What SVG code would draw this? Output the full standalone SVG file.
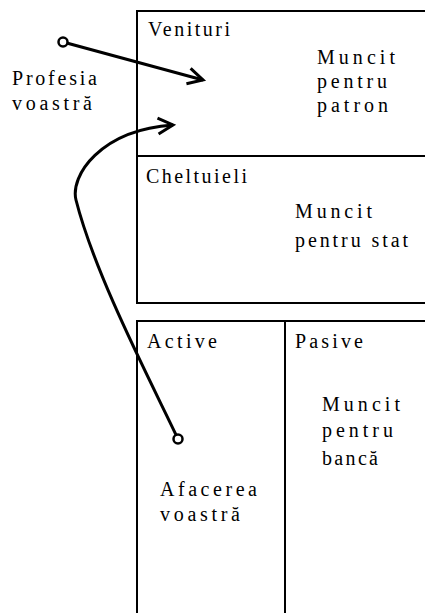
<svg xmlns="http://www.w3.org/2000/svg" width="425" height="613" viewBox="0 0 425 613">
<defs>
<style>
.box{fill:none;stroke:#000;stroke-width:2}
.t{font-family:"Liberation Serif","Times New Roman",serif;font-size:20px;fill:#000}
.c{fill:none;stroke:#000;stroke-width:3}
.dot{fill:#fff;stroke:#000;stroke-width:2.5}
</style>
<marker id="ah" markerUnits="userSpaceOnUse" markerWidth="30" markerHeight="30" refX="0" refY="0" viewBox="-20 -15 30 30" orient="auto" overflow="visible">
<path d="M-15,-8 L0,0 L-15,8" fill="none" stroke="#000" stroke-width="3"/>
</marker>
</defs>
<rect width="425" height="613" fill="#fff"/>
<g id="venituri">
<rect class="box" x="137" y="11" width="300" height="145"/>
<text class="t" x="148" y="36" textLength="82" lengthAdjust="spacing">Venituri</text>
<text class="t" x="317" y="64" textLength="78" lengthAdjust="spacing">Muncit</text>
<text class="t" x="317" y="88" textLength="70" lengthAdjust="spacing">pentru</text>
<text class="t" x="317" y="112" textLength="71" lengthAdjust="spacing">patron</text>
</g>
<g id="cheltuieli">
<rect class="box" x="137" y="156" width="300" height="147"/>
<text class="t" x="146" y="183" textLength="101" lengthAdjust="spacing">Cheltuieli</text>
<text class="t" x="295" y="218" textLength="77" lengthAdjust="spacing">Muncit</text>
<text class="t" x="295" y="247" textLength="113" lengthAdjust="spacing">pentru stat</text>
</g>
<g id="active">
<rect class="box" x="137" y="321" width="148" height="310"/>
<text class="t" x="147" y="348" textLength="70" lengthAdjust="spacing">Active</text>
<text class="t" x="160" y="496" textLength="97" lengthAdjust="spacing">Afacerea</text>
<text class="t" x="160" y="521" textLength="80" lengthAdjust="spacing">voastră</text>
</g>
<g id="pasive">
<rect class="box" x="285" y="321" width="152" height="310"/>
<text class="t" x="295" y="348" textLength="68" lengthAdjust="spacing">Pasive</text>
<text class="t" x="322" y="411" textLength="78" lengthAdjust="spacing">Muncit</text>
<text class="t" x="322" y="437" textLength="71" lengthAdjust="spacing">pentru</text>
<text class="t" x="322" y="465" textLength="56" lengthAdjust="spacing">bancă</text>
</g>
<g id="profesia">
<text class="t" x="12" y="85" textLength="85" lengthAdjust="spacing">Profesia</text>
<text class="t" x="12" y="110" textLength="80" lengthAdjust="spacing">voastră</text>
</g>
<g id="connectors">
<path class="c" d="M63,42 L203,80" marker-end="url(#ah)"/>
<circle class="dot" cx="63" cy="42" r="4.5"/>
<path class="c" d="M178,439 C150,380 95,275 76,200 C70,176 100,130 173,125" marker-end="url(#ah)"/>
<circle class="dot" cx="178" cy="439" r="4.5"/>
</g>
</svg>
